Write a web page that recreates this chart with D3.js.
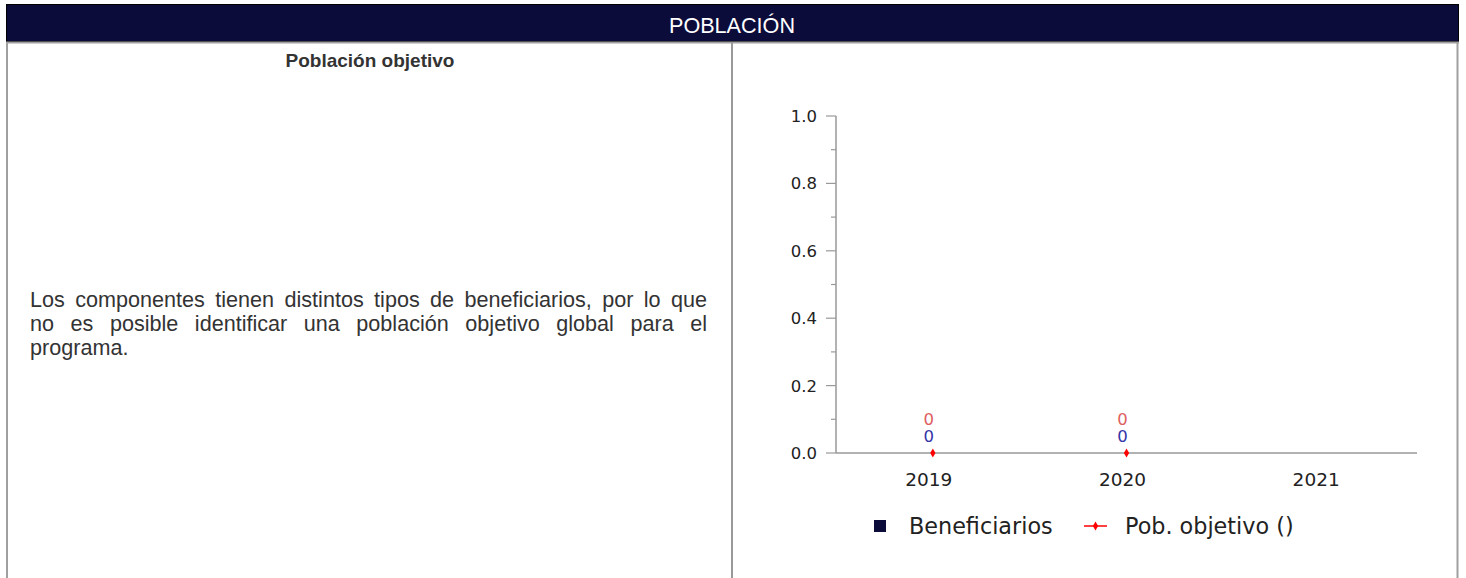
<!DOCTYPE html>
<html><head><meta charset="utf-8">
<script src="https://cdn.jsdelivr.net/npm/d3@7"></script>
<style>
html,body{margin:0;padding:0;background:#fff;overflow:hidden;}
svg{display:block;}
</style></head>
<body><svg id="c" width="1466" height="578"></svg>
<script>
const years = ["2019","2020","2021"];
const beneficiarios = [0, 0, null];
const pobObjetivo = [0, 0, null];
const yTicks = [0, 0.2, 0.4, 0.6, 0.8, 1.0];
const headerTitle = "POBLACIÓN";
const leftTitle = "Población objetivo";
const bodyLines = [
  "Los componentes tienen distintos tipos de beneficiarios, por lo que",
  "no es posible identificar una población objetivo global para el",
  "programa."
];
const legendLabels = ["Beneficiarios", "Pob. objetivo ()"];

const svg = d3.select("#c");
const navy = "#0c0c3a";
const sans = "'Liberation Sans', Arial, sans-serif";
const font = "'DejaVu Sans', sans-serif";

// table frame
svg.append("rect").attr("x",6.5).attr("y",4.5).attr("width",1452).attr("height",37)
  .attr("fill",navy).attr("stroke","#000").attr("stroke-width",1);
svg.append("line").attr("x1",6).attr("x2",1459).attr("y1",42.5).attr("y2",42.5).attr("stroke","#a0a0a0").attr("stroke-width",2);
svg.append("line").attr("x1",7).attr("x2",7).attr("y1",42).attr("y2",578).attr("stroke","#a0a0a0").attr("stroke-width",2);
svg.append("line").attr("x1",1457.5).attr("x2",1457.5).attr("y1",42).attr("y2",578).attr("stroke","#a0a0a0").attr("stroke-width",2);
svg.append("line").attr("x1",732).attr("x2",732).attr("y1",42).attr("y2",578).attr("stroke","#999").attr("stroke-width",2);

svg.append("text").attr("x",732).attr("y",33).attr("text-anchor","middle")
  .attr("font-family",sans).attr("font-size",21.6).attr("fill","#fff").text(headerTitle);
svg.append("text").attr("x",370).attr("y",67).attr("text-anchor","middle")
  .attr("font-family",sans).attr("font-size",19).attr("font-weight","bold").attr("fill","#333").text(leftTitle);

// justified paragraph
const left = 30, right = 707;
bodyLines.forEach((ln,i)=>{
  const t = svg.append("text").attr("x",left).attr("y",307+i*24)
    .attr("font-family",sans).attr("font-size",21.6).attr("fill","#333").text(ln);
  if(i < bodyLines.length-1){
    const w = t.node().getComputedTextLength();
    const spaces = (ln.match(/ /g)||[]).length;
    t.attr("word-spacing", (right-left-w)/spaces);
  }
});

// chart
const x = d3.scaleBand().domain(years).range([836,1417]);
const y = d3.scaleLinear().domain([0,1]).range([453,116]);
const g = svg.append("g");
const axisCol = "#999";
const txtCol = "#222";
const lblShift = -4;

// y axis
g.append("line").attr("x1",836).attr("x2",836).attr("y1",y(1)).attr("y2",y(0)).attr("stroke",axisCol).attr("stroke-width",1.5);
d3.range(0,11).forEach(k=>{
  const v = k/10;
  const major = k%2===0;
  g.append("line").attr("x1",836-(major?10:5)).attr("x2",836).attr("y1",y(v)).attr("y2",y(v)).attr("stroke",axisCol).attr("stroke-width",1.2);
});
yTicks.forEach(v=>{
  g.append("text").attr("x",817).attr("y",y(v)).attr("dy","0.36em").attr("text-anchor","end")
    .attr("font-family",font).attr("font-size",16.5).attr("fill",txtCol).text(v.toFixed(1));
});
// x axis
g.append("line").attr("x1",836).attr("x2",1417).attr("y1",y(0)).attr("y2",y(0)).attr("stroke",axisCol).attr("stroke-width",1.5);
years.forEach(yr=>{
  g.append("text").attr("x",x(yr)+x.bandwidth()/2+lblShift).attr("y",479).attr("dy","0.36em").attr("text-anchor","middle")
    .attr("font-family",font).attr("font-size",18.5).attr("fill",txtCol).text(yr);
});

// bars (zero height)
years.forEach((yr,i)=>{
  const v = beneficiarios[i];
  if(v==null) return;
  const bw = 40;
  const cx = x(yr)+x.bandwidth()/2;
  g.append("rect").attr("x",cx-bw/2).attr("y",y(v)).attr("width",bw).attr("height",y(0)-y(v)).attr("fill",navy);
  g.append("text").attr("x",cx+lblShift).attr("y",y(v)-17).attr("dy","0.36em").attr("text-anchor","middle")
    .attr("font-family",font).attr("font-size",16.5).attr("fill","#3535a8").text(v);
});
// points
const diamond = d3.symbol().type(d3.symbolDiamond).size(24);
years.forEach((yr,i)=>{
  const v = pobObjetivo[i];
  if(v==null) return;
  const cx = x(yr)+x.bandwidth()/2;
  g.append("path").attr("d",diamond()).attr("transform",`translate(${cx},${y(v)})`).attr("fill","#ff0000");
  g.append("text").attr("x",cx+lblShift).attr("y",y(v)-34).attr("dy","0.36em").attr("text-anchor","middle")
    .attr("font-family",font).attr("font-size",16.5).attr("fill","#dd6060").text(v);
});

// legend
g.append("rect").attr("x",874).attr("y",520).attr("width",12).attr("height",12).attr("fill",navy);
g.append("text").attr("x",909).attr("y",526).attr("dy","0.36em").attr("font-family",font).attr("font-size",22.3).attr("fill",txtCol).text(legendLabels[0]);
g.append("line").attr("x1",1084).attr("x2",1107).attr("y1",526).attr("y2",526).attr("stroke","#ff0000").attr("stroke-width",1.5);
g.append("path").attr("d",diamond()).attr("transform","translate(1095.5,526)").attr("fill","#ff0000");
g.append("text").attr("x",1125).attr("y",526).attr("dy","0.36em").attr("font-family",font).attr("font-size",22.3).attr("fill",txtCol).text(legendLabels[1]);
</script></body></html>
